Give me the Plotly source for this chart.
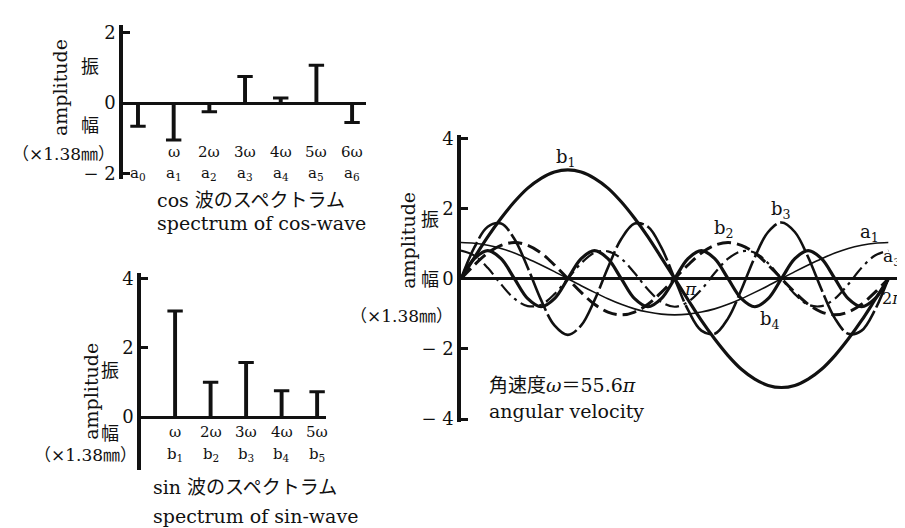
import plotly.graph_objects as go

W, H = 905, 528

# ---------------- data ----------------
cos_orders = [0, 1, 2, 3, 4, 5, 6]
cos_freq_labels = ["", "ω", "2ω", "3ω", "4ω", "5ω", "6ω"]
cos_coef_labels = ["a<sub>0</sub>", "a<sub>1</sub>", "a<sub>2</sub>", "a<sub>3</sub>",
                   "a<sub>4</sub>", "a<sub>5</sub>", "a<sub>6</sub>"]
cos_amp = [-0.66, -1.05, -0.25, 0.75, 0.14, 1.07, -0.55]

sin_orders = [1, 2, 3, 4, 5]
sin_freq_labels = ["ω", "2ω", "3ω", "4ω", "5ω"]
sin_coef_labels = ["b<sub>1</sub>", "b<sub>2</sub>", "b<sub>3</sub>", "b<sub>4</sub>", "b<sub>5</sub>"]
sin_amp = [3.07, 1.01, 1.58, 0.76, 0.73]

# phase in units of pi/16 (0 .. 2pi)
phase_16ths = list(range(33))
wave_b1 = [0, 0.60, 1.19, 1.72, 2.19, 2.58, 2.86, 3.04, 3.10, 3.04, 2.86, 2.58, 2.19, 1.72, 1.19, 0.60,
           0, -0.60, -1.19, -1.72, -2.19, -2.58, -2.86, -3.04, -3.10, -3.04, -2.86, -2.58, -2.19, -1.72,
           -1.19, -0.60, 0]
wave_a1 = [1.03, 1.01, 0.95, 0.86, 0.73, 0.57, 0.39, 0.20, 0, -0.20, -0.39, -0.57, -0.73, -0.86, -0.95,
           -1.01, -1.03, -1.01, -0.95, -0.86, -0.73, -0.57, -0.39, -0.20, 0, 0.20, 0.39, 0.57, 0.73,
           0.86, 0.95, 1.01, 1.03]
wave_b2 = [0, 0.39, 0.73, 0.95, 1.03, 0.95, 0.73, 0.39, 0, -0.39, -0.73, -0.95, -1.03, -0.95, -0.73,
           -0.39, 0, 0.39, 0.73, 0.95, 1.03, 0.95, 0.73, 0.39, 0, -0.39, -0.73, -0.95, -1.03, -0.95,
           -0.73, -0.39, 0]
wave_b3 = [0, 0.89, 1.48, 1.57, 1.13, 0.31, -0.61, -1.33, -1.60, -1.33, -0.61, 0.31, 1.13, 1.57, 1.48,
           0.89, 0, -0.89, -1.48, -1.57, -1.13, -0.31, 0.61, 1.33, 1.60, 1.33, 0.61, -0.31, -1.13,
           -1.57, -1.48, -0.89, 0]
wave_b4 = [0, 0.57, 0.80, 0.57, 0, -0.57, -0.80, -0.57, 0, 0.57, 0.80, 0.57, 0, -0.57, -0.80, -0.57,
           0, 0.57, 0.80, 0.57, 0, -0.57, -0.80, -0.57, 0, 0.57, 0.80, 0.57, 0, -0.57, -0.80, -0.57, 0]
wave_a3 = [0.80, 0.66, 0.31, -0.16, -0.57, -0.78, -0.74, -0.44, 0, 0.44, 0.74, 0.78, 0.57, 0.16, -0.31,
           -0.66, -0.80, -0.66, -0.31, 0.16, 0.57, 0.78, 0.74, 0.44, 0, -0.44, -0.74, -0.78, -0.57,
           -0.16, 0.31, 0.66, 0.80]

# ---------------- styling ----------------
SERIF = "DejaVu Serif, Noto Sans CJK JP, serif"
BLACK = "#111111"


def px(x):
    return x / W


def py(y):
    return 1 - y / H


fig = go.Figure()

# cos spectrum
fig.add_trace(go.Bar(x=cos_orders, y=cos_amp, width=0.11, marker=dict(color=BLACK, line=dict(width=0)),
                     xaxis="x", yaxis="y", showlegend=False))
fig.add_trace(go.Scatter(x=cos_orders, y=cos_amp, mode="markers", xaxis="x", yaxis="y", showlegend=False,
                         marker=dict(symbol="line-ew", size=11, line=dict(width=3, color=BLACK))))
# sin spectrum
fig.add_trace(go.Bar(x=sin_orders, y=sin_amp, width=0.11, marker=dict(color=BLACK, line=dict(width=0)),
                     xaxis="x2", yaxis="y2", showlegend=False))
fig.add_trace(go.Scatter(x=sin_orders, y=sin_amp, mode="markers", xaxis="x2", yaxis="y2", showlegend=False,
                         marker=dict(symbol="line-ew", size=11, line=dict(width=3, color=BLACK))))

# waves
waves = [
    (wave_a1, dict(width=1.6, dash="solid")),
    (wave_a3, dict(width=2.2, dash="14px,5px,3px,5px")),
    (wave_b2, dict(width=3, dash="14px,6px")),
    (wave_b3, dict(width=2.6, dash="40px,4px")),
    (wave_b4, dict(width=3.2, dash="solid")),
    (wave_b1, dict(width=3.2, dash="solid")),
]
for ys, ln in waves:
    fig.add_trace(go.Scatter(x=phase_16ths, y=ys, mode="lines", xaxis="x3", yaxis="y3", showlegend=False,
                             line=dict(color=BLACK, shape="spline", smoothing=1.0, **ln)))


def yax(rng, tickvals, ticktext, top, bottom):
    return dict(range=rng, domain=[py(bottom), py(top)], showline=True, linewidth=3.5, linecolor=BLACK,
                ticks="inside", ticklen=7, tickwidth=3, tickcolor=BLACK, tickvals=tickvals,
                ticktext=ticktext, tickfont=dict(family=SERIF, size=18, color=BLACK), showgrid=False,
                zeroline=True, zerolinewidth=3, zerolinecolor=BLACK, fixedrange=True)


def xax(rng, left, right, anchor):
    return dict(range=rng, domain=[px(left), px(right)], visible=False, showgrid=False, zeroline=False,
                anchor=anchor, fixedrange=True)


fig.update_layout(
    width=W, height=H, margin=dict(l=0, r=0, t=0, b=0),
    paper_bgcolor="white", plot_bgcolor="rgba(0,0,0,0)",
    barmode="overlay",
    xaxis=xax([-0.42, 6.39], 115, 358, "y"),
    yaxis=dict(yax([-2.14, 2.22], [-2, 0, 2], ["− 2", "0", "2"], 10, 168), anchor="x"),
    xaxis2=xax([0.04, 5.25], 133, 318, "y2"),
    yaxis2=dict(yax([-1.52, 4.17], [0, 2, 4], ["0", "2", "4"], 265, 467), anchor="x2"),
    xaxis3=xax([0, 33.1], 453, 895, "y3"),
    yaxis3=dict(yax([-4.08, 4.1], [-4, -2, 0, 2, 4], ["− 4", "− 2", "0", "2", "4"], 123, 418), anchor="x3"),
)

anns = []


def ann(text, x, y, size=18, xanchor="center", angle=0, xref="paper", yref="paper"):
    anns.append(dict(text=text, x=x if xref != "paper" else px(x), y=py(y), xref=xref, yref=yref,
                     showarrow=False, xanchor=xanchor, yanchor="middle", textangle=angle,
                     font=dict(family=SERIF, size=size, color=BLACK)))


# top-left chart labels
ann("amplitude", 52, 75, size=19, angle=-90)
ann("振", 82, 53, size=18)
ann("幅", 82, 113, size=18)
ann("（×1.38㎜）", 55, 143, size=17)
for o, fl, cl in zip(cos_orders, cos_freq_labels, cos_coef_labels):
    if fl:
        ann(fl, o, 141, size=15, xref="x")
    ann(cl, o, 163, size=15, xref="x")
ann("cos 波のスペクトラム", 147, 190, size=19, xanchor="left")
ann("spectrum of cos-wave", 147, 214, size=19, xanchor="left")

# bottom-left chart labels
ann("amplitude", 83, 387, size=19, angle=-90)
ann("振", 102, 365, size=18)
ann("幅", 102, 430, size=18)
ann("（×1.38㎜）", 77, 452, size=17)
for o, fl, cl in zip(sin_orders, sin_freq_labels, sin_coef_labels):
    ann(fl, o, 428, size=15, xref="x2")
    ann(cl, o, 451, size=15, xref="x2")
ann("sin 波のスペクトラム", 143, 485, size=19, xanchor="left")
ann("spectrum of sin-wave", 143, 515, size=19, xanchor="left")

# right chart labels
ann("amplitude", 400, 232, size=19, angle=-90)
ann("振", 422, 210, size=18)
ann("幅", 422, 272, size=18)
ann("（×1.38㎜）", 393, 309, size=17)
ann("<i>π</i>", 682, 281, size=17)
ann("2<i>π</i>", 884, 291, size=16)
ann("b<sub>1</sub>", 558, 147, size=18)
ann("b<sub>2</sub>", 716, 220, size=18)
ann("b<sub>3</sub>", 773, 200, size=18)
ann("a<sub>1</sub>", 861, 224, size=18)
ann("a<sub>3</sub>", 884, 249, size=17)
ann("b<sub>4</sub>", 762, 313, size=18)
ann("角速度<i>ω</i>＝55.6<i>π</i>", 479, 380, size=19, xanchor="left")
ann("angular velocity", 479, 407, size=19, xanchor="left")

fig.update_layout(annotations=anns)
fig.write_html("out.html")
